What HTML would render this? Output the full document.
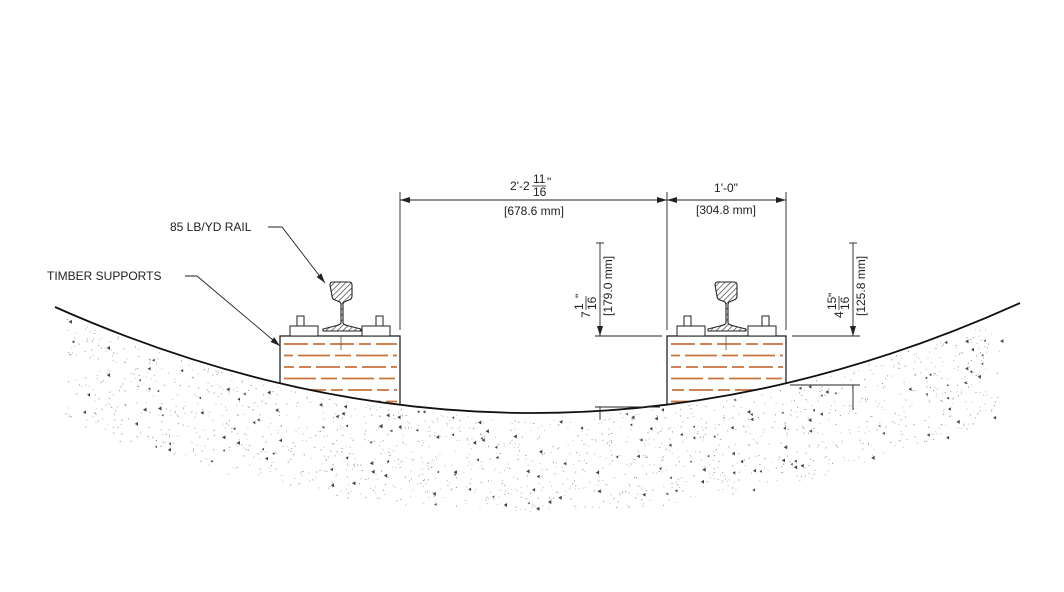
<!DOCTYPE html>
<html><head><meta charset="utf-8"><style>
html,body{margin:0;padding:0;background:#fff;}
svg{display:block}
text{font-family:"Liberation Sans",sans-serif;fill:#222;font-size:12px}
</style></head><body>
<svg id="s" width="1064" height="592" viewBox="0 0 1064 592" xmlns="http://www.w3.org/2000/svg">
<defs>
<clipPath id="above"><path d="M0,0 H1064 V300 L1020,303 Q537,521 55,307 L0,300 Z"/></clipPath>
<pattern id="hatch" width="4" height="4" patternUnits="userSpaceOnUse" patternTransform="rotate(45)"><rect width="4" height="4" fill="#fff"/><line x1="0" y1="0" x2="0" y2="4" stroke="#333" stroke-width="1.3"/></pattern>
<marker id="ar" viewBox="0 0 10 6" refX="10" refY="3" markerWidth="10" markerHeight="6" orient="auto-start-reverse" markerUnits="userSpaceOnUse"><path d="M0,0 L10,3 L0,6 Z" fill="#222"/></marker>
</defs>
<g id="gravel"></g>
<g id="timbers" clip-path="url(#above)"></g>
<path d="M55,307 Q537,521 1020,303" fill="none" stroke="#111" stroke-width="1.8"/>
<g id="rails"></g>
<g stroke="#222" stroke-width="0.9" fill="none">
<line x1="400" y1="192" x2="400" y2="330"/>
<line x1="667" y1="192" x2="667" y2="330"/>
<line x1="786" y1="192" x2="786" y2="330"/>
<line x1="400" y1="200" x2="667" y2="200" marker-start="url(#ar)" marker-end="url(#ar)"/>
<line x1="667" y1="200" x2="786" y2="200" marker-start="url(#ar)" marker-end="url(#ar)"/>
<line x1="595" y1="336" x2="662" y2="336"/>
<line x1="595" y1="407" x2="660" y2="407"/>
<line x1="600" y1="243" x2="600" y2="336" marker-end="url(#ar)"/>
<line x1="600" y1="407" x2="600" y2="420"/>
<line x1="792" y1="336" x2="860" y2="336"/>
<line x1="790" y1="385" x2="860" y2="385"/>
<line x1="853" y1="243" x2="853" y2="336" marker-end="url(#ar)"/>
<line x1="853" y1="385" x2="853" y2="410"/>
<line x1="596" y1="243" x2="604" y2="243"/>
<line x1="849" y1="243" x2="857" y2="243"/>
<polyline points="268,227 282,227 325,283" marker-end="url(#ar)"/>
<polyline points="185,276 197,276 280,346" marker-end="url(#ar)"/>
</g>
<text x="510" y="190">2'-2</text>
<text x="533" y="183" font-size="10">11</text>
<line x1="532" y1="186" x2="546" y2="186" stroke="#222" stroke-width="0.8"/>
<text x="533" y="196" font-size="10">16</text>
<text x="547" y="186" font-size="10">"</text>
<text x="534" y="215" text-anchor="middle">[678.6 mm]</text>
<text x="726" y="192" text-anchor="middle">1'-0"</text>
<text x="726" y="214" text-anchor="middle">[304.8 mm]</text>
<g transform="translate(590,318) rotate(-90)">
<text x="0" y="0">7</text><text x="8" y="-7" font-size="10">1</text><line x1="8" y1="-4" x2="22" y2="-4" stroke="#222" stroke-width="0.8"/><text x="8" y="6" font-size="10">16</text><text x="20" y="-6" font-size="10">"</text>
</g>
<text transform="translate(612,316) rotate(-90)">[179.0 mm]</text>
<g transform="translate(843,318) rotate(-90)">
<text x="0" y="0">4</text><text x="8" y="-7" font-size="10">15</text><line x1="8" y1="-4" x2="22" y2="-4" stroke="#222" stroke-width="0.8"/><text x="8" y="6" font-size="10">16</text><text x="21" y="-6" font-size="10">"</text>
</g>
<text transform="translate(865,316) rotate(-90)">[125.8 mm]</text>
<text x="170" y="231">85 LB/YD RAIL</text>
<text x="47" y="280">TIMBER SUPPORTS</text>
</svg>
<script>
(function(){
var NS="http://www.w3.org/2000/svg";
function el(p,t,a){var e=document.createElementNS(NS,t);for(var k in a)e.setAttribute(k,String(a[k]));p.appendChild(e);return e;}
var seed=12345;function r(){seed=(seed*16807)%2147483647;return seed/2147483647;}
var g=document.getElementById("gravel");
var parts=[];
for(var n=0;n<1700;n++){
 var t=0.01+r()*0.97;
 var x=(1-t)*(1-t)*55+2*t*(1-t)*537+t*t*1020;
 var top=(1-t)*(1-t)*307+2*t*(1-t)*521+t*t*303+3;
 var u=(x-530)/470;
 var b=510-95*u*u+r()*8-4;
 if(!(b>top))continue;
 var y=top+r()*(b-top);
 if(r()<0.1){var s=2+r()*1.5;
  parts.push('<path d="M'+x.toFixed(1)+','+y.toFixed(1)+' l'+s.toFixed(1)+','+(-s*0.6).toFixed(1)+' l0,'+(s*1.2).toFixed(1)+'z" fill="#444"/>');}
 else parts.push('<rect x="'+x.toFixed(1)+'" y="'+y.toFixed(1)+'" width="1" height="1" fill="'+(r()<0.4?'#888':'#bbb')+'"/>');
}
g.innerHTML=parts.join("");
var tg=document.getElementById("timbers"),rg=document.getElementById("rails");
[[280,400,341],[667,786,726]].forEach(function(T){
 var x0=T[0],x1=T[1],c=T[2],w=x1-x0;
 el(tg,"rect",{x:x0,y:336,width:w,height:80,fill:"#fff",stroke:"#222","stroke-width":1.3});
 for(var j=0;j<6;j++){var yy=344+j*11.5;
  el(tg,"line",{x1:x0+4,y1:yy,x2:x1-3,y2:yy,stroke:"#c8733a","stroke-width":1.8,"stroke-dasharray":j%2?"16,5,32,5":"24,5,12,5","stroke-dashoffset":j*7});}
 el(tg,"line",{x1:c,y1:336,x2:c,y2:350,stroke:"#555","stroke-width":0.8});
 el(rg,"rect",{x:x0+10,y:326,width:28,height:10,fill:"#fff",stroke:"#222","stroke-width":1});
 el(rg,"rect",{x:x1-38,y:326,width:28,height:10,fill:"#fff",stroke:"#222","stroke-width":1});
 el(rg,"rect",{x:x0+17,y:316,width:7,height:10,fill:"#fff",stroke:"#222","stroke-width":1});
 el(rg,"rect",{x:x1-24,y:316,width:7,height:10,fill:"#fff",stroke:"#222","stroke-width":1});
 var d="M"+(c-11)+",285 q0,-3 3,-3 h16 q3,0 3,3 v11 q0,3 -3,4 l-5,2 l-1,2 v19 q1,2 6,3 l12,3 v2 h-38 v-2 l12,-3 q5,-1 6,-3 v-19 l-1,-2 l-5,-2 q-3,-1 -3,-4 z";
 el(rg,"path",{d:d,fill:"url(#hatch)",stroke:"#222","stroke-width":1.1});
});
})();
</script>
</body></html>
